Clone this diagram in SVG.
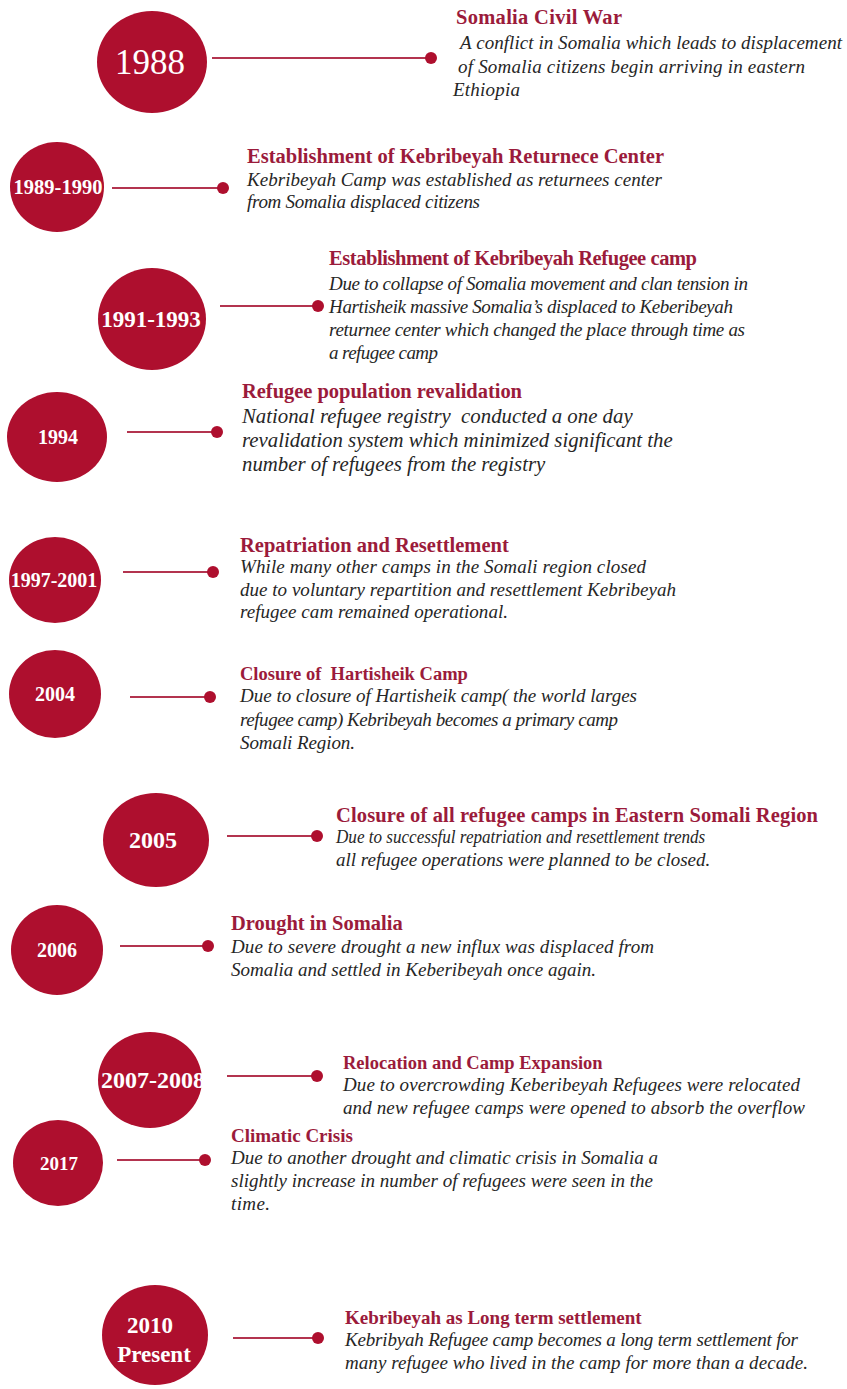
<svg xmlns="http://www.w3.org/2000/svg" width="847" height="1389" viewBox="0 0 847 1389">
<style>
.c{fill:#ae0f2e}
.y{fill:#ffffff;font-family:"Liberation Serif",serif;font-weight:bold;text-anchor:middle}
.t{fill:#9b1b3b;font-family:"Liberation Serif",serif;font-weight:bold;font-size:20.5px}
.d{fill:#262626;font-family:"Liberation Serif",serif;font-style:italic;font-size:19px}
.ln{stroke:#b3344f;stroke-width:2;fill:none}
.dot{fill:#ae0f2e}
</style>
<rect width="847" height="1389" fill="#ffffff"/>
<g id="connectors">
<line class="ln" x1="212" y1="58" x2="431" y2="58"/><circle class="dot" cx="431" cy="58" r="6"/>
<line class="ln" x1="112" y1="188" x2="223" y2="188"/><circle class="dot" cx="223" cy="188" r="6"/>
<line class="ln" x1="220" y1="306" x2="318" y2="306"/><circle class="dot" cx="318" cy="306" r="6"/>
<line class="ln" x1="127" y1="432" x2="217" y2="432"/><circle class="dot" cx="217" cy="432" r="6"/>
<line class="ln" x1="123" y1="572" x2="213" y2="572"/><circle class="dot" cx="213" cy="572" r="6"/>
<line class="ln" x1="130" y1="697" x2="210" y2="697"/><circle class="dot" cx="210" cy="697" r="6"/>
<line class="ln" x1="227" y1="836" x2="317" y2="836"/><circle class="dot" cx="317" cy="836" r="6"/>
<line class="ln" x1="120" y1="946" x2="208" y2="946"/><circle class="dot" cx="208" cy="946" r="6"/>
<line class="ln" x1="227" y1="1076" x2="317" y2="1076"/><circle class="dot" cx="317" cy="1076" r="6"/>
<line class="ln" x1="117" y1="1160" x2="205" y2="1160"/><circle class="dot" cx="205" cy="1160" r="6"/>
<line class="ln" x1="233" y1="1338" x2="318" y2="1338"/><circle class="dot" cx="318" cy="1338" r="6"/>
</g>
<g id="n1988">
<ellipse class="c" cx="152" cy="62" rx="55" ry="51"/>
<text class="y" x="150" y="74" style="font-size:35px;font-weight:normal">1988</text>
<text class="t" x="456" y="24" textLength="166">Somalia Civil War</text>
<text class="d" x="460" y="49" textLength="382">A conflict in Somalia which leads to displacement</text>
<text class="d" x="458" y="73" textLength="347">of Somalia citizens begin arriving in eastern</text>
<text class="d" x="453" y="96" textLength="67">Ethiopia</text>
</g>
<g id="n1989">
<ellipse class="c" cx="57" cy="187" rx="47" ry="45"/>
<text class="y" x="58" y="194" style="font-size:20.5px">1989-1990</text>
<text class="t" x="247" y="163" textLength="417">Establishment of Kebribeyah Returnece Center</text>
<text class="d" x="247" y="186" textLength="415">Kebribeyah Camp was established as returnees center</text>
<text class="d" x="247" y="208" textLength="233">from Somalia displaced citizens</text>
</g>
<g id="n1991">
<ellipse class="c" cx="152" cy="319" rx="54" ry="51"/>
<text class="y" x="151" y="327" style="font-size:23px">1991-1993</text>
<text class="t" x="329" y="265" textLength="368">Establishment of Kebribeyah Refugee camp</text>
<text class="d" x="329" y="290" textLength="419">Due to collapse of Somalia movement and clan tension in</text>
<text class="d" x="329" y="313" textLength="404">Hartisheik massive Somalia’s displaced to Keberibeyah</text>
<text class="d" x="329" y="336" textLength="416">returnee center which changed the place through time as</text>
<text class="d" x="329" y="359" textLength="109">a refugee camp</text>
</g>
<g id="n1994">
<ellipse class="c" cx="57" cy="437" rx="50" ry="45"/>
<text class="y" x="58" y="444" style="font-size:20px">1994</text>
<text class="t" x="242" y="398" textLength="280">Refugee population revalidation</text>
<text class="d" x="242" y="423" style="font-size:20.8px" xml:space="preserve">National refugee registry  conducted a one day</text>
<text class="d" x="242" y="447" style="font-size:20.8px">revalidation system which minimized significant the</text>
<text class="d" x="242" y="471" style="font-size:20.8px">number of refugees from the registry</text>
</g>
<g id="n1997">
<ellipse class="c" cx="55" cy="580" rx="46" ry="43"/>
<text class="y" x="54" y="587" style="font-size:20px">1997-2001</text>
<text class="t" x="240" y="552">Repatriation and Resettlement</text>
<text class="d" x="240" y="573" textLength="406">While many other camps in the Somali region closed</text>
<text class="d" x="240" y="596" textLength="436">due to voluntary repartition and resettlement Kebribeyah</text>
<text class="d" x="240" y="618" textLength="268">refugee cam remained operational.</text>
</g>
<g id="n2004">
<ellipse class="c" cx="55" cy="694" rx="46" ry="44"/>
<text class="y" x="55" y="701" style="font-size:20px">2004</text>
<text class="t" x="240" y="680" style="font-size:18.5px" xml:space="preserve">Closure of  Hartisheik Camp</text>
<text class="d" x="240" y="702" textLength="397">Due to closure of Hartisheik camp( the world larges</text>
<text class="d" x="240" y="726" textLength="378">refugee camp) Kebribeyah becomes a primary camp</text>
<text class="d" x="240" y="749" textLength="115">Somali Region.</text>
</g>
<g id="n2005">
<ellipse class="c" cx="156" cy="840" rx="53" ry="47"/>
<text class="y" x="153" y="848" style="font-size:24px">2005</text>
<text class="t" x="336" y="822" textLength="482">Closure of all refugee camps in Eastern Somali Region</text>
<text class="d" x="336" y="843" transform="matrix(0.9 0 0 1 33.6 0)">Due to successful repatriation and resettlement trends</text>
<text class="d" x="336" y="866">all refugee operations were planned to be closed.</text>
</g>
<g id="n2006">
<ellipse class="c" cx="57" cy="950" rx="46" ry="45"/>
<text class="y" x="57" y="957" style="font-size:20px">2006</text>
<text class="t" x="231" y="930">Drought in Somalia</text>
<text class="d" x="231" y="953" textLength="423">Due to severe drought a new influx was displaced from</text>
<text class="d" x="231" y="976" textLength="365">Somalia and settled in Keberibeyah once again.</text>
</g>
<g id="n2007">
<ellipse class="c" cx="150" cy="1080" rx="52" ry="48"/>
<text class="y" x="153" y="1088" style="font-size:24px">2007-2008</text>
<text class="t" x="343" y="1069" style="font-size:18.5px">Relocation and Camp Expansion</text>
<text class="d" x="343" y="1091" textLength="457">Due to overcrowding Keberibeyah Refugees were relocated</text>
<text class="d" x="343" y="1114" textLength="462">and new refugee camps were opened to absorb the overflow</text>
</g>
<g id="n2017">
<ellipse class="c" cx="58" cy="1163" rx="45" ry="43"/>
<text class="y" x="59" y="1170" style="font-size:19px">2017</text>
<text class="t" x="231" y="1142" style="font-size:19px">Climatic Crisis</text>
<text class="d" x="231" y="1164" textLength="427">Due to another drought and climatic crisis in Somalia a</text>
<text class="d" x="231" y="1187" textLength="422">slightly increase in number of refugees were seen in the</text>
<text class="d" x="231" y="1210" textLength="39">time.</text>
</g>
<g id="n2010">
<ellipse class="c" cx="155" cy="1335" rx="53" ry="50"/>
<text class="y" x="150" y="1333" style="font-size:23px">2010</text>
<text class="y" x="154" y="1362" style="font-size:23px">Present</text>
<text class="t" x="345" y="1324" style="font-size:19px">Kebribeyah as Long term settlement</text>
<text class="d" x="345" y="1346" textLength="453">Kebribyah Refugee camp becomes a long term settlement for</text>
<text class="d" x="345" y="1369" textLength="463">many refugee who lived in the camp for more than a decade.</text>
</g>
</svg>
